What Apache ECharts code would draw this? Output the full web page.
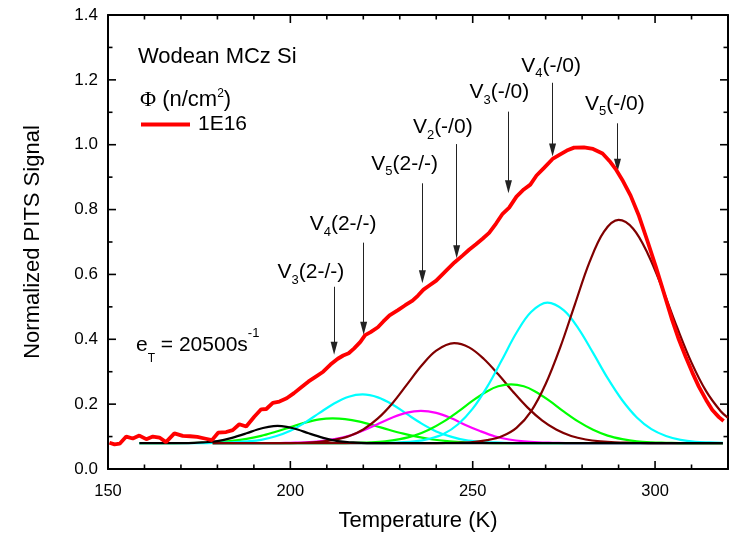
<!DOCTYPE html>
<html><head><meta charset="utf-8">
<script src="https://cdn.jsdelivr.net/npm/echarts@6/dist/echarts.min.js"></script>
<style>html,body{margin:0;padding:0;background:#fff}#c{width:729px;height:534px}</style>
</head><body><div id="c"></div>
<script>
const FONT = '"Liberation Sans", Arial, Helvetica, sans-serif';
const SERIF = '"Liberation Serif", "Times New Roman", serif';

// ---- ticks and tick labels ----
const xTickLabels = ['150', '200', '250', '300'];
const yTickLabels = ['0.0', '0.2', '0.4', '0.6', '0.8', '1.0', '1.2', '1.4'];
const xMajorTicks = [150, 200, 250, 300];
const xMinorTicks = [160, 170, 180, 190, 210, 220, 230, 240, 260, 270, 280, 290, 310];
const yMajorTicks = [0.2, 0.4, 0.6, 0.8, 1.0, 1.2];
const yMinorTicks = [0.1, 0.3, 0.5, 0.7, 0.9, 1.1, 1.3];

// ---- measured PITS spectrum, fluence 1E16 n/cm2 : [T (K), normalized signal] ----
const measured1E16 = [
  [150.4,0.081],[151.8,0.076],[153.2,0.078],[155,0.100],[156.8,0.094],[158.6,0.103],[160.5,0.092],
  [162.3,0.100],[164.1,0.097],[165.9,0.083],[168.2,0.110],[170.5,0.102],[172.5,0.101],[174.5,0.099],
  [176.5,0.094],[178.5,0.089],[180.2,0.112],[182.4,0.114],[184.2,0.120],[186,0.138],[187.9,0.131],
  [190.1,0.161],[192,0.184],[193.4,0.185],[195.2,0.204],[197,0.208],[199,0.218],[201,0.234],
  [203,0.252],[205,0.270],[207,0.285],[209,0.300],[211,0.322],[213,0.340],[214.5,0.350],[216,0.357],
  [217.5,0.372],[219.2,0.392],[220.5,0.413],[222,0.422],[224,0.437],[225.5,0.455],[227.2,0.474],
  [229.5,0.490],[231.5,0.505],[233.5,0.519],[235,0.535],[236.5,0.553],[238,0.565],[240,0.581],
  [241.5,0.598],[243,0.615],[245,0.637],[247.2,0.658],[249,0.676],[250.9,0.693],[252.7,0.710],
  [254.5,0.728],[256.4,0.757],[258.2,0.787],[260,0.806],[262,0.840],[264,0.862],[265.8,0.877],
  [267.5,0.905],[269.5,0.928],[271.9,0.956],[274,0.970],[275.8,0.982],[277.8,0.991],[280.5,0.992],
  [283,0.987],[285.6,0.973],[287.5,0.950],[289.2,0.925],[291.2,0.888],[293.3,0.843],[295.6,0.780],
  [298,0.700],[300.2,0.624],[302.5,0.540],[304.7,0.459],[306.5,0.400],[308.4,0.346],[310.2,0.298],
  [312,0.254],[314,0.213],[315.7,0.182],[317.5,0.160],[318.8,0.148]
];

// ---- fitted component peaks : [T (K), signal] ----
const fitBlack196 = [[158.6,0.080],[168,0.080],[172,0.080],[176,0.082],[180,0.086],[184,0.096],[188,0.110],
  [191,0.122],[194,0.130],[196.5,0.133],[199,0.130],[202,0.122],[205,0.110],[209,0.096],[213,0.086],
  [217,0.082],[221,0.080],[230,0.080],[318.6,0.080]];
const fitV3_2m = [[158.6,0.080],[168,0.080],[176,0.081],[180,0.083],[184,0.087],[188,0.093],[192,0.102],
  [196,0.115],[200,0.129],[204,0.143],[208,0.153],[211.6,0.156],[215,0.154],[219,0.146],[223,0.134],
  [227,0.121],[231,0.109],[235,0.099],[239,0.091],[243,0.086],[247,0.083],[251,0.081],[256,0.080],
  [265,0.080],[318.6,0.080]];
const fitV4_2m = [[158.6,0.080],[170,0.080],[176,0.080],[180,0.081],[184,0.082],[188,0.085],[192,0.090],
  [196,0.101],[200,0.118],[204,0.143],[208,0.173],[212,0.202],[216,0.223],[219.8,0.230],[224,0.221],
  [228,0.199],[232,0.169],[236,0.140],[240,0.116],[244,0.100],[248,0.089],[252,0.084],[256,0.082],
  [261,0.080],[270,0.080],[318.6,0.080]];
const fitV5_2m = [[178.7,0.080],[190,0.080],[196,0.080],[200,0.081],[204,0.082],[208,0.085],[212,0.092],
  [216,0.102],[220,0.119],[224,0.139],[228,0.159],[232,0.174],[235.8,0.179],[240,0.173],[244,0.157],
  [248,0.136],[252,0.117],[256,0.101],[260,0.091],[264,0.085],[268,0.082],[272,0.081],[277,0.080],
  [285,0.080],[318.6,0.080]];
const fitV2_m0 = [[178.7,0.080],[194,0.080],[200,0.080],[204,0.081],[208,0.084],[212,0.090],[216,0.101],
  [220,0.122],[224,0.156],[228,0.203],[232,0.261],[236,0.319],[240,0.365],[244.9,0.388],[249,0.375],
  [253,0.340],[257,0.292],[261,0.239],[265,0.190],[269,0.150],[273,0.121],[277,0.102],[281,0.091],
  [285,0.085],[289,0.082],[294,0.081],[300,0.080],[308,0.080],[318.6,0.080]];
const fitV3_m0 = [[178.7,0.080],[205,0.080],[214,0.080],[218,0.081],[222,0.082],[226,0.085],[230,0.092],
  [234,0.103],[238,0.121],[242,0.146],[246,0.177],[250,0.211],[254,0.240],[257,0.255],[260.5,0.261],
  [264,0.255],[267,0.240],[271,0.211],[275,0.177],[279,0.146],[283,0.121],[287,0.103],[291,0.092],
  [295,0.085],[299,0.082],[303,0.081],[308,0.080],[318.6,0.080]];
const fitV4_m0 = [[178.7,0.080],[218,0.080],[226,0.080],[230,0.082],[234,0.085],[238,0.093],[242,0.108],
  [246,0.138],[250,0.186],[254,0.254],[258,0.336],[262,0.420],[266,0.484],[270.5,0.513],[275,0.489],
  [279,0.433],[283,0.358],[287,0.280],[291,0.212],[295,0.159],[299,0.123],[303,0.102],[307,0.090],
  [311,0.084],[315,0.082],[318.6,0.081]];
const fitV5_m0 = [[178.7,0.080],[232,0.080],[240,0.080],[246,0.081],[250,0.083],[254,0.089],[258,0.101],
  [262,0.127],[266,0.178],[270,0.262],[274,0.375],[278,0.507],[282,0.637],[286,0.732],[290,0.768],
  [294,0.741],[298,0.664],[302,0.557],[306,0.438],[310,0.328],[314,0.240],[318,0.178],[320,0.158]];

// ---- defect annotations (data coordinates) ----
const annoSub   = ['3', '4', '5', '2', '3', '4', '5'];
const annoState = ['(2-/-)', '(2-/-)', '(2-/-)', '(-/0)', '(-/0)', '(-/0)', '(-/0)'];
const annoLabelT = [196.5, 205.3, 222.2, 233.6, 249.1, 263.3, 280.8];
const annoLabelV = [0.606, 0.754, 0.940, 1.053, 1.161, 1.243, 1.126];
const arrowT     = [212.0, 220.1, 236.2, 245.6, 259.8, 271.9, 289.7];
const arrowTopV  = [0.562, 0.698, 0.881, 1.002, 1.102, 1.191, 1.066];
const arrowTipV  = [0.372, 0.434, 0.593, 0.670, 0.870, 0.984, 0.937];

const X_MIN = 150, X_MAX = 320, Y_MIN = 0, Y_MAX = 1.4;
const MAJOR_PX = 8, MINOR_PX = 4.5, TICK_W = 1.6;

// one row per tick: [x value, y value, dx px, dy px] — the tick grows inward from the frame
const tickRows = [];
xMajorTicks.map(v => [v, MAJOR_PX]).concat(xMinorTicks.map(v => [v, MINOR_PX])).forEach(([v, len]) => {
  tickRows.push([v, Y_MIN, 0, -len]);
  tickRows.push([v, Y_MAX, 0, len]);
});
yMajorTicks.map(v => [v, MAJOR_PX]).concat(yMinorTicks.map(v => [v, MINOR_PX])).forEach(([v, len]) => {
  tickRows.push([X_MIN, v, len, 0]);
  tickRows.push([X_MAX, v, -len, 0]);
});

const chart = echarts.init(document.getElementById('c'), null, {renderer: 'canvas'});

function compSeries(name, data, color) {
  return {
    name: name, type: 'line', data: data, showSymbol: false, symbol: 'none',
    smooth: 0.35, lineStyle: {color: color, width: 2.2}, itemStyle: {color: color},
    silent: true, z: 2
  };
}

function mkAxis(extra) {
  return Object.assign({
    type: 'value',
    axisLine: {show: true, onZero: false, lineStyle: {color: '#000', width: 2}},
    axisTick: {show: false},
    splitLine: {show: false},
    minorSplitLine: {show: false}
  }, extra);
}

const option = {
  animation: false,
  backgroundColor: '#fff',
  grid: {left: 108, right: 1, top: 15, bottom: 65, containLabel: false, outerBoundsMode: 'none'},
  legend: {
    data: [{name: '1E16', icon: 'rect'}], left: 141, top: 114, padding: 0, selectedMode: false,
    itemWidth: 49, itemHeight: 4,
    textStyle: {fontFamily: FONT, fontSize: 21, color: '#000', padding: [0, 0, 0, 3]}
  },
  xAxis: [
    mkAxis({
      position: 'bottom', min: X_MIN, max: X_MAX, interval: 50,
      axisLabel: {
        show: true, margin: 14, color: '#000', fontFamily: FONT, fontSize: 16.5, showMaxLabel: false,
        formatter: v => (xTickLabels.indexOf(String(v)) >= 0 ? String(v) : '')
      },
      name: 'Temperature (K)', nameLocation: 'middle', nameGap: 41,
      nameTextStyle: {fontFamily: FONT, fontSize: 22, color: '#000'}
    }),
    mkAxis({position: 'top', min: X_MIN, max: X_MAX, interval: 50, axisLabel: {show: false}})
  ],
  yAxis: [
    mkAxis({
      position: 'left', min: Y_MIN, max: Y_MAX, interval: 0.2,
      axisLabel: {
        show: true, margin: 10, color: '#000', fontFamily: FONT, fontSize: 17,
        formatter: v => yTickLabels[Math.round(v / 0.2)]
      },
      name: 'Normalized PITS Signal', nameLocation: 'middle', nameGap: 64, nameRotate: 90,
      nameTextStyle: {fontFamily: FONT, fontSize: 22, color: '#000'}
    }),
    mkAxis({position: 'right', min: Y_MIN, max: Y_MAX, interval: 0.2, axisLabel: {show: false}})
  ],
  graphic: [
    {type: 'text', x: 138, y: 57, silent: true,
      style: {text: 'Wodean MCz Si', fontFamily: FONT, fontSize: 22, fill: '#000', verticalAlign: 'middle', align: 'left'}},
    {type: 'text', x: 140, y: 100, silent: true,
      style: {
        text: '{f|Φ}{n| (n/cm}{p|2}{n|)}', verticalAlign: 'middle', align: 'left',
        rich: {
          f: {fontFamily: SERIF, fontSize: 22, lineHeight: 24, fill: '#000'},
          n: {fontFamily: FONT, fontSize: 22, lineHeight: 24, fill: '#000'},
          p: {fontFamily: FONT, fontSize: 12, lineHeight: 14, verticalAlign: 'top', fill: '#000'}
        }
      }},
    {type: 'text', x: 136, y: 345.5, silent: true,
      style: {
        text: '{n|e}{s|T}{n| = 20500s}{p|-1}', verticalAlign: 'middle', align: 'left',
        rich: {
          n: {fontFamily: FONT, fontSize: 21, lineHeight: 38, fill: '#000'},
          s: {fontFamily: FONT, fontSize: 12, lineHeight: 12, verticalAlign: 'bottom', fill: '#000'},
          p: {fontFamily: FONT, fontSize: 13, lineHeight: 33, verticalAlign: 'top', fill: '#000'}
        }
      }}
  ],
  series: [
    compSeries('green-a', fitV3_2m, '#00ff00'),
    compSeries('cyan-a', fitV4_2m, '#00ffff'),
    compSeries('magenta', fitV5_2m, '#ff00ff'),
    compSeries('brown-a', fitV2_m0, '#800000'),
    compSeries('green-b', fitV3_m0, '#00ff00'),
    compSeries('cyan-b', fitV4_m0, '#00ffff'),
    compSeries('brown-b', fitV5_m0, '#800000'),
    compSeries('black', fitBlack196, '#000000'),
    {
      name: '1E16', type: 'line', data: measured1E16, showSymbol: false, symbol: 'none',
      lineStyle: {color: '#ff0000', width: 3.8}, itemStyle: {color: '#ff0000'}, z: 5, silent: true
    },
    {
      // frame ticks: one plain rect per data row (no groups), placed through the axes' scales
      name: 'frameTicks', type: 'custom', silent: true, z: 8, clip: false,
      dimensions: ['x', 'y', 'dx', 'dy'],
      encode: {x: 0, y: 1},
      data: tickRows,
      renderItem: function (params, api) {
        const p = api.coord([api.value(0), api.value(1)]);
        const dx = api.value(2), dy = api.value(3);
        let x, y, w, h;
        if (dx !== 0) {
          x = Math.min(p[0], p[0] + dx); w = Math.abs(dx);
          y = p[1] - TICK_W / 2; h = TICK_W;
        } else {
          y = Math.min(p[1], p[1] + dy); h = Math.abs(dy);
          x = p[0] - TICK_W / 2; w = TICK_W;
        }
        return {type: 'rect', shape: {x: x, y: y, width: w, height: h}, style: {fill: '#000', stroke: null}};
      }
    },
    {
      name: 'labels', type: 'custom', silent: true, z: 6, clip: false,
      data: annoSub.map((s, i) => [annoLabelT[i], annoLabelV[i], i]),
      renderItem: function (params, api) {
        const i = api.value(2);
        const p = api.coord([api.value(0), api.value(1)]);
        return {
          type: 'text', x: p[0], y: p[1],
          style: {
            text: '{n|V}{s|' + annoSub[i] + '}{n|' + annoState[i] + '}',
            align: 'left', verticalAlign: 'middle',
            rich: {
              n: {fontFamily: FONT, fontSize: 21, lineHeight: 28, fill: '#000'},
              s: {fontFamily: FONT, fontSize: 13, lineHeight: 13, verticalAlign: 'bottom', fill: '#000'}
            }
          }
        };
      },
      markLine: {
        silent: true, animation: false,
        symbol: ['none', 'triangle'], symbolSize: [7, 13],
        lineStyle: {color: '#222', width: 1, type: 'solid'},
        label: {show: false},
        emphasis: {disabled: true},
        data: arrowT.map((t, i) => [{coord: [t, arrowTopV[i]]}, {coord: [t, arrowTipV[i]]}])
      }
    }
  ]
};
chart.setOption(option);
</script>
</body></html>
